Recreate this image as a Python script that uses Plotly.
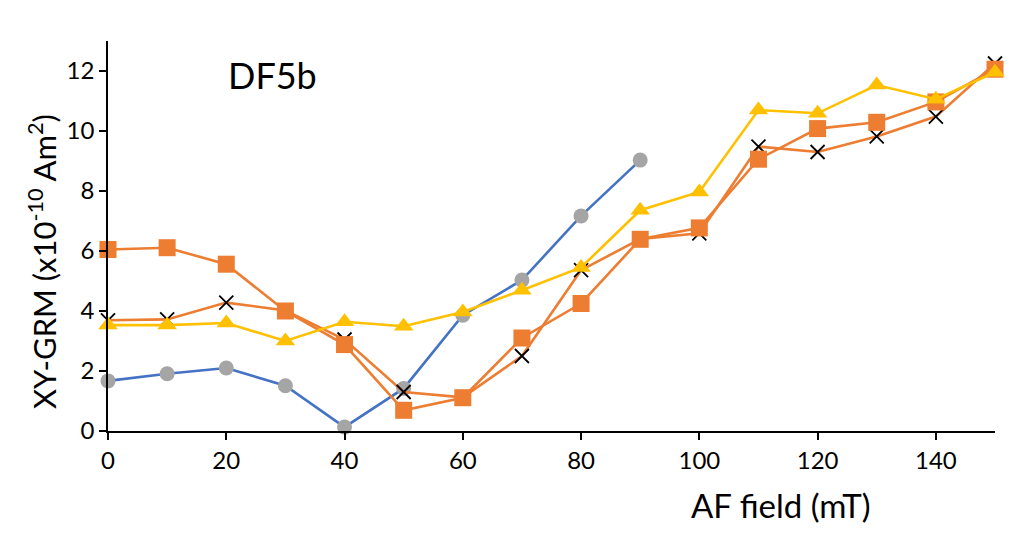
import plotly.graph_objects as go

# AF demagnetisation steps (mT)
af_field = [0, 10, 20, 30, 40, 50, 60, 70, 80, 90, 100, 110, 120, 130, 140, 150]

# XY-GRM values (x1e-10 Am^2) for each run
grm_circle = [1.67, 1.91, 2.10, 1.51, 0.13, 1.42, 3.86, 5.03, 7.17, 9.03]
grm_cross = [3.69, 3.72, 4.28, 4.02, 3.05, 1.30, 1.12, 2.50, 5.36, 6.40,
             6.59, 9.48, 9.30, 9.82, 10.48, 12.25]
grm_square = [6.05, 6.11, 5.56, 4.00, 2.88, 0.69, 1.11, 3.10, 4.25, 6.39,
              6.77, 9.06, 10.08, 10.29, 10.97, 12.06]
grm_triangle = [3.53, 3.53, 3.60, 3.00, 3.64, 3.49, 3.97, 4.69, 5.45, 7.36,
                7.97, 10.70, 10.59, 11.53, 11.06, 11.96]

x_ticks = [0, 20, 40, 60, 80, 100, 120, 140]
y_ticks = [0, 2, 4, 6, 8, 10, 12]

FONT = "Lato, Carlito, 'Open Sans', sans-serif"

# plot-area geometry in pixels
W, H = 1034, 540
L, R, T, B = 108, 39, 41, 109
PW, PH = W - L - R, H - T - B


def px_x(px):
    return (px - L) / PW


def px_y(py):
    return (H - B - py) / PH


fig = go.Figure()

fig.add_trace(go.Scatter(
    x=af_field[:len(grm_circle)], y=grm_circle, mode="lines+markers",
    line=dict(color="#4472C4", width=2.6),
    marker=dict(symbol="circle", size=15, color="#A5A5A5"),
    cliponaxis=False, showlegend=False))

fig.add_trace(go.Scatter(
    x=af_field, y=grm_cross, mode="lines+markers",
    line=dict(color="#ED7D31", width=2.6),
    marker=dict(symbol="x-thin", size=14, color="black",
                line=dict(color="black", width=1.8)),
    cliponaxis=False, showlegend=False))

fig.add_trace(go.Scatter(
    x=af_field, y=grm_square, mode="lines+markers",
    line=dict(color="#ED7D31", width=2.6),
    marker=dict(symbol="square", size=17, color="#ED7D31"),
    cliponaxis=False, showlegend=False))

fig.add_trace(go.Scatter(
    x=af_field, y=grm_triangle, mode="lines+markers",
    line=dict(color="#FFC000", width=2.6),
    marker=dict(symbol="triangle-up", size=17, color="#FFC000"),
    cliponaxis=False, showlegend=False))

axis_style = dict(showgrid=False, zeroline=False, showline=True,
                  linecolor="black", linewidth=1.5, ticks="outside",
                  ticklen=7, tickwidth=1.5, tickcolor="black",
                  tickfont=dict(size=24))

fig.update_layout(
    width=W, height=H,
    margin=dict(l=L, r=R, t=T, b=B),
    paper_bgcolor="white", plot_bgcolor="white",
    font=dict(family=FONT, size=24, color="black"),
    xaxis=dict(range=[0, 150], tickvals=x_ticks, **axis_style),
    yaxis=dict(range=[0, 13], tickvals=y_ticks, **axis_style),
    annotations=[
        dict(text="DF5b", x=px_x(272), y=px_y(75), xref="paper", yref="paper",
             xanchor="center", yanchor="middle", showarrow=False,
             font=dict(size=36)),
        dict(text="AF field (mT)", x=px_x(781), y=px_y(505),
             xref="paper", yref="paper",
             xanchor="center", yanchor="middle", showarrow=False,
             font=dict(size=33)),
        dict(text="XY-GRM (x10<sup>-10</sup> Am<sup>2</sup>)",
             x=px_x(42), y=px_y(262),
             xref="paper", yref="paper", textangle=-90,
             xanchor="center", yanchor="middle", showarrow=False,
             font=dict(size=31)),
    ],
)

fig.write_html("out.html")
